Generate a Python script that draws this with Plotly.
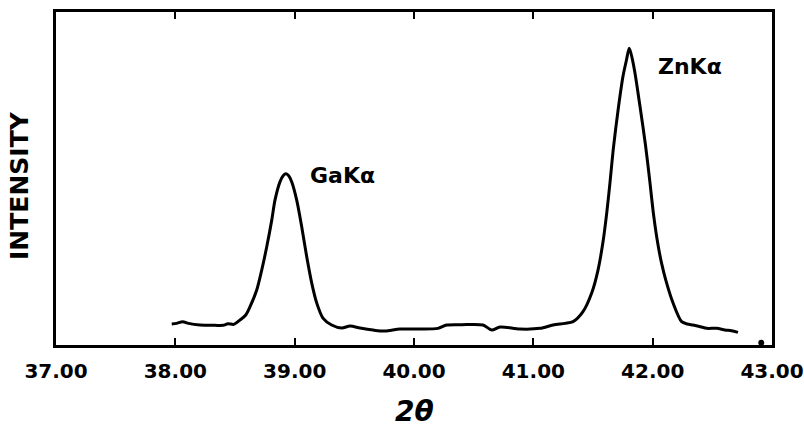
import plotly.graph_objects as go

# Diffraction scan: 2-theta (degrees) vs. relative intensity
two_theta = [
    37.970, 38.010, 38.062, 38.110, 38.207, 38.332, 38.400, 38.441, 38.490, 38.542,
    38.590, 38.626, 38.682, 38.724, 38.766, 38.808, 38.835, 38.877, 38.905, 38.927,
    38.950, 38.975, 39.017, 39.059, 39.101, 39.143, 39.185, 39.237, 39.310, 39.394,
    39.464, 39.548, 39.657, 39.757, 39.883, 40.050, 40.200, 40.274, 40.400, 40.578,
    40.651, 40.721, 40.888, 41.056, 41.165, 41.265, 41.333, 41.416, 41.489, 41.542,
    41.584, 41.615, 41.643, 41.672, 41.710, 41.751, 41.780, 41.804, 41.830, 41.852,
    41.894, 41.940, 41.975, 42.008, 42.045, 42.075, 42.110, 42.171, 42.243, 42.290,
    42.338, 42.400, 42.453, 42.537, 42.606, 42.660, 42.715,
]
intensity = [
    6.3, 6.5, 7.0, 6.5, 6.0, 5.9, 5.9, 6.4, 6.2, 7.5,
    9.0, 11.5, 16.5, 22.5, 29.5, 37.5, 43.5, 49.0, 50.9, 51.4,
    50.8, 49.0, 43.5, 35.5, 26.5, 18.6, 12.6, 8.1, 6.0, 5.1,
    5.7, 5.1, 4.5, 4.2, 4.8, 4.8, 5.0, 6.0, 6.1, 6.0,
    4.5, 5.4, 4.8, 5.0, 6.0, 6.5, 7.0, 10.0, 15.6, 22.5,
    31.0, 39.6, 49.0, 59.5, 70.5, 80.6, 85.5, 89.1, 85.8, 81.6,
    71.6, 60.0, 49.5, 39.0, 30.0, 24.5, 19.5, 12.6, 7.0, 6.3,
    6.0, 5.5, 5.0, 5.0, 4.5, 4.3, 3.8,
]

# Stray point near the end of the scan
stray_x = [42.91]
stray_y = [0.7]

peak_labels = ["GaKα", "ZnKα"]
label_x = [39.112, 42.028]
label_y = [51.0, 83.5]

tick_vals = [37, 38, 39, 40, 41, 42, 43]
tick_text = ["37.00", "38.00", "39.00", "40.00", "41.00", "42.00", "43.00"]

font_bold = "DejaVu Sans"

fig = go.Figure()
fig.add_trace(go.Scatter(
    x=two_theta, y=intensity, mode="lines",
    line=dict(color="black", width=3, shape="spline", smoothing=0.8),
    hoverinfo="skip", showlegend=False,
))
fig.add_trace(go.Scatter(
    x=stray_x, y=stray_y, mode="markers",
    marker=dict(color="black", size=6),
    hoverinfo="skip", showlegend=False,
))

for txt, lx, ly in zip(peak_labels, label_x, label_y):
    fig.add_annotation(
        x=lx, y=ly, xref="x", yref="y", text=txt, showarrow=False,
        xanchor="left", yanchor="middle",
        font=dict(family=font_bold, size=22, color="black", weight="bold"),
    )

fig.add_annotation(
    x=-0.052, y=0.48, xref="paper", yref="paper", text="INTENSITY",
    showarrow=False, textangle=-90, xanchor="center", yanchor="middle",
    font=dict(family=font_bold, size=25, color="black", weight="bold"),
)
fig.add_annotation(
    x=0.5, y=-0.2, xref="paper", yref="paper", text="2θ",
    showarrow=False, xanchor="center", yanchor="middle",
    font=dict(family=font_bold, size=28, color="black", weight="bold", style="italic"),
)

fig.update_layout(
    width=804, height=429,
    margin=dict(l=56, r=32, t=12, b=84, autoexpand=False),
    paper_bgcolor="white", plot_bgcolor="white",
    xaxis=dict(
        range=[37, 43], tickmode="array", tickvals=tick_vals, ticktext=tick_text,
        ticks="inside", ticklen=7, tickwidth=2, tickcolor="black",
        showline=True, linecolor="black", linewidth=3, mirror="ticks",
        showgrid=False, zeroline=False, automargin=False,
        tickfont=dict(family=font_bold, size=20, color="black", weight="bold"),
        ticklabelstandoff=6,
    ),
    yaxis=dict(
        range=[0, 100], showticklabels=False, ticks="",
        showline=True, linecolor="black", linewidth=3, mirror=True,
        showgrid=False, zeroline=False, automargin=False,
    ),
)

fig.write_html("out.html")
